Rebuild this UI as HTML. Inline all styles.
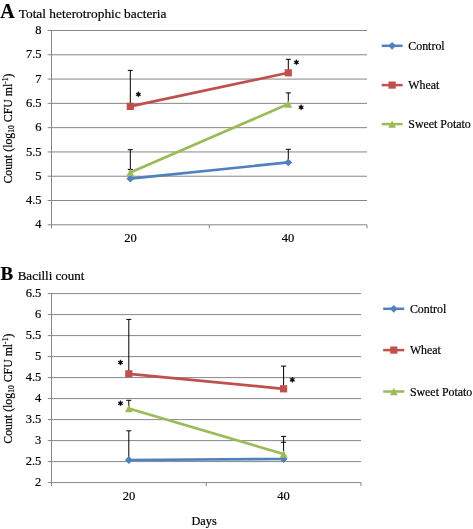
<!DOCTYPE html>
<html><head><meta charset="utf-8"><style>
html,body{margin:0;padding:0;background:#fff;}
svg{display:block;will-change:transform;}
text{stroke:#000;stroke-width:0.2px;}
</style></head><body>
<svg width="473" height="529" viewBox="0 0 473 529" font-family='"Liberation Serif", serif' fill="#000">
<line x1="47.6" y1="30.5" x2="367" y2="30.5" stroke="#878787" stroke-width="1"/>
<text x="41.5" y="34.1" text-anchor="end" font-size="12.5">8</text>
<line x1="47.6" y1="54.79" x2="367" y2="54.79" stroke="#878787" stroke-width="1"/>
<text x="41.5" y="58.39" text-anchor="end" font-size="12.5">7.5</text>
<line x1="47.6" y1="79.08" x2="367" y2="79.08" stroke="#878787" stroke-width="1"/>
<text x="41.5" y="82.67" text-anchor="end" font-size="12.5">7</text>
<line x1="47.6" y1="103.36" x2="367" y2="103.36" stroke="#878787" stroke-width="1"/>
<text x="41.5" y="106.96" text-anchor="end" font-size="12.5">6.5</text>
<line x1="47.6" y1="127.65" x2="367" y2="127.65" stroke="#878787" stroke-width="1"/>
<text x="41.5" y="131.25" text-anchor="end" font-size="12.5">6</text>
<line x1="47.6" y1="151.94" x2="367" y2="151.94" stroke="#878787" stroke-width="1"/>
<text x="41.5" y="155.54" text-anchor="end" font-size="12.5">5.5</text>
<line x1="47.6" y1="176.23" x2="367" y2="176.23" stroke="#878787" stroke-width="1"/>
<text x="41.5" y="179.83" text-anchor="end" font-size="12.5">5</text>
<line x1="47.6" y1="200.51" x2="367" y2="200.51" stroke="#878787" stroke-width="1"/>
<text x="41.5" y="204.11" text-anchor="end" font-size="12.5">4.5</text>
<line x1="47.6" y1="224.8" x2="367" y2="224.8" stroke="#878787" stroke-width="1"/>
<text x="41.5" y="228.4" text-anchor="end" font-size="12.5">4</text>
<line x1="51.5" y1="30.5" x2="51.5" y2="228.3" stroke="#878787" stroke-width="1"/>
<line x1="209.25" y1="224.8" x2="209.25" y2="228.3" stroke="#878787" stroke-width="1"/>
<line x1="367" y1="224.8" x2="367" y2="228.3" stroke="#878787" stroke-width="1"/>
<text x="130.38" y="242.4" text-anchor="middle" font-size="12.5">20</text>
<text x="288.12" y="242.4" text-anchor="middle" font-size="12.5">40</text>
<line x1="130.3" y1="106.4" x2="130.3" y2="70.4" stroke="#000" stroke-width="1"/>
<line x1="127.8" y1="70.4" x2="132.8" y2="70.4" stroke="#000" stroke-width="1"/>
<line x1="288.3" y1="72.8" x2="288.3" y2="59.3" stroke="#000" stroke-width="1"/>
<line x1="285.8" y1="59.3" x2="290.8" y2="59.3" stroke="#000" stroke-width="1"/>
<line x1="288.3" y1="104" x2="288.3" y2="92.9" stroke="#000" stroke-width="1"/>
<line x1="285.8" y1="92.9" x2="290.8" y2="92.9" stroke="#000" stroke-width="1"/>
<line x1="130.3" y1="178.7" x2="130.3" y2="149.7" stroke="#000" stroke-width="1"/>
<line x1="127.8" y1="149.7" x2="132.8" y2="149.7" stroke="#000" stroke-width="1"/>
<line x1="288.3" y1="162.4" x2="288.3" y2="149.3" stroke="#000" stroke-width="1"/>
<line x1="285.8" y1="149.3" x2="290.8" y2="149.3" stroke="#000" stroke-width="1"/>
<line x1="127.8" y1="169.4" x2="132.8" y2="169.4" stroke="#000" stroke-width="1"/>
<line x1="130.3" y1="178.7" x2="288.3" y2="162.4" stroke="#4F81BD" stroke-width="2.7"/>
<line x1="130.3" y1="106.4" x2="288.3" y2="72.8" stroke="#C0504D" stroke-width="2.7"/>
<line x1="130.3" y1="172.4" x2="288.3" y2="104" stroke="#9BBB59" stroke-width="2.7"/>
<path d="M130.3 174.8L134.2 178.7L130.3 182.6L126.4 178.7Z" fill="#4F81BD"/>
<path d="M288.3 158.5L292.2 162.4L288.3 166.3L284.4 162.4Z" fill="#4F81BD"/>
<rect x="126.7" y="102.8" width="7.2" height="7.2" fill="#C0504D"/>
<rect x="284.7" y="69.2" width="7.2" height="7.2" fill="#C0504D"/>
<path d="M130.3 168.7L134.2 176.1L126.4 176.1Z" fill="#9BBB59"/>
<path d="M288.3 100.3L292.2 107.7L284.4 107.7Z" fill="#9BBB59"/>
<polygon points="138.35,91.6 137.67,93.18 135.97,92.97 137,94.35 135.97,95.72 137.67,95.52 138.35,97.1 139.03,95.52 140.73,95.72 139.7,94.35 140.73,92.97 139.03,93.18" fill="#000" stroke="#000" stroke-width="0.5" stroke-linejoin="round"/>
<polygon points="296.4,59.55 295.72,61.13 294.02,60.92 295.05,62.3 294.02,63.67 295.72,63.47 296.4,65.05 297.07,63.47 298.78,63.67 297.75,62.3 298.78,60.92 297.07,61.13" fill="#000" stroke="#000" stroke-width="0.5" stroke-linejoin="round"/>
<polygon points="301.1,104.6 300.43,106.18 298.72,105.97 299.75,107.35 298.72,108.72 300.43,108.52 301.1,110.1 301.78,108.52 303.48,108.72 302.45,107.35 303.48,105.97 301.78,106.18" fill="#000" stroke="#000" stroke-width="0.5" stroke-linejoin="round"/>
<line x1="381.7" y1="45.8" x2="402.6" y2="45.8" stroke="#4F81BD" stroke-width="2.5"/>
<path d="M392.1 41.9L396 45.8L392.1 49.7L388.2 45.8Z" fill="#4F81BD"/>
<text x="408.3" y="49.8" font-size="11.9">Control</text>
<line x1="381.7" y1="85.1" x2="402.6" y2="85.1" stroke="#C0504D" stroke-width="2.5"/>
<rect x="388.5" y="81.5" width="7.2" height="7.2" fill="#C0504D"/>
<text x="408.3" y="89.1" font-size="11.9">Wheat</text>
<line x1="381.7" y1="124.1" x2="402.6" y2="124.1" stroke="#9BBB59" stroke-width="2.5"/>
<path d="M392.1 120.4L396 127.8L388.2 127.8Z" fill="#9BBB59"/>
<text x="408.3" y="128.1" font-size="11.9">Sweet Potato</text>
<text transform="translate(11.8 128.5) rotate(-90)" text-anchor="middle" font-size="11.8">Count (log<tspan font-size="7.67" dy="2">10</tspan><tspan dy="-2"> CFU ml</tspan><tspan font-size="7.67" dy="-4">-1</tspan><tspan dy="4">)</tspan></text>
<text x="0.3" y="17.7" font-size="20" font-weight="bold">A</text>
<text x="18.7" y="17.7" font-size="13.4">Total heterotrophic bacteria</text>
<line x1="47.8" y1="293.6" x2="361" y2="293.6" stroke="#878787" stroke-width="1"/>
<text x="41.3" y="297.2" text-anchor="end" font-size="12.5">6.5</text>
<line x1="47.8" y1="314.6" x2="361" y2="314.6" stroke="#878787" stroke-width="1"/>
<text x="41.3" y="318.2" text-anchor="end" font-size="12.5">6</text>
<line x1="47.8" y1="335.6" x2="361" y2="335.6" stroke="#878787" stroke-width="1"/>
<text x="41.3" y="339.2" text-anchor="end" font-size="12.5">5.5</text>
<line x1="47.8" y1="356.6" x2="361" y2="356.6" stroke="#878787" stroke-width="1"/>
<text x="41.3" y="360.2" text-anchor="end" font-size="12.5">5</text>
<line x1="47.8" y1="377.6" x2="361" y2="377.6" stroke="#878787" stroke-width="1"/>
<text x="41.3" y="381.2" text-anchor="end" font-size="12.5">4.5</text>
<line x1="47.8" y1="398.6" x2="361" y2="398.6" stroke="#878787" stroke-width="1"/>
<text x="41.3" y="402.2" text-anchor="end" font-size="12.5">4</text>
<line x1="47.8" y1="419.6" x2="361" y2="419.6" stroke="#878787" stroke-width="1"/>
<text x="41.3" y="423.2" text-anchor="end" font-size="12.5">3.5</text>
<line x1="47.8" y1="440.6" x2="361" y2="440.6" stroke="#878787" stroke-width="1"/>
<text x="41.3" y="444.2" text-anchor="end" font-size="12.5">3</text>
<line x1="47.8" y1="461.6" x2="361" y2="461.6" stroke="#878787" stroke-width="1"/>
<text x="41.3" y="465.2" text-anchor="end" font-size="12.5">2.5</text>
<line x1="47.8" y1="482.6" x2="361" y2="482.6" stroke="#878787" stroke-width="1"/>
<text x="41.3" y="486.2" text-anchor="end" font-size="12.5">2</text>
<line x1="51.5" y1="293.6" x2="51.5" y2="486.1" stroke="#878787" stroke-width="1"/>
<line x1="206.25" y1="482.6" x2="206.25" y2="486.1" stroke="#878787" stroke-width="1"/>
<line x1="361" y1="482.6" x2="361" y2="486.1" stroke="#878787" stroke-width="1"/>
<text x="128.88" y="500" text-anchor="middle" font-size="12.5">20</text>
<text x="283.62" y="500" text-anchor="middle" font-size="12.5">40</text>
<line x1="128.8" y1="373.8" x2="128.8" y2="319.4" stroke="#000" stroke-width="1"/>
<line x1="126.3" y1="319.4" x2="131.3" y2="319.4" stroke="#000" stroke-width="1"/>
<line x1="283.6" y1="388.8" x2="283.6" y2="366.1" stroke="#000" stroke-width="1"/>
<line x1="281.1" y1="366.1" x2="286.1" y2="366.1" stroke="#000" stroke-width="1"/>
<line x1="128.8" y1="408.5" x2="128.8" y2="400.3" stroke="#000" stroke-width="1"/>
<line x1="126.3" y1="400.3" x2="131.3" y2="400.3" stroke="#000" stroke-width="1"/>
<line x1="128.8" y1="460" x2="128.8" y2="430.8" stroke="#000" stroke-width="1"/>
<line x1="126.3" y1="430.8" x2="131.3" y2="430.8" stroke="#000" stroke-width="1"/>
<line x1="283.6" y1="456" x2="283.6" y2="436.4" stroke="#000" stroke-width="1"/>
<line x1="281.1" y1="436.4" x2="286.1" y2="436.4" stroke="#000" stroke-width="1"/>
<line x1="281.1" y1="442.3" x2="286.1" y2="442.3" stroke="#000" stroke-width="1"/>
<line x1="128.8" y1="460" x2="283.6" y2="459" stroke="#4F81BD" stroke-width="2.7"/>
<line x1="128.8" y1="373.8" x2="283.6" y2="388.8" stroke="#C0504D" stroke-width="2.7"/>
<line x1="128.8" y1="408.5" x2="283.6" y2="454" stroke="#9BBB59" stroke-width="2.7"/>
<path d="M128.8 456.1L132.7 460L128.8 463.9L124.9 460Z" fill="#4F81BD"/>
<path d="M283.6 455.1L287.5 459L283.6 462.9L279.7 459Z" fill="#4F81BD"/>
<rect x="125.2" y="370.2" width="7.2" height="7.2" fill="#C0504D"/>
<rect x="280" y="385.2" width="7.2" height="7.2" fill="#C0504D"/>
<path d="M128.8 404.8L132.7 412.2L124.9 412.2Z" fill="#9BBB59"/>
<path d="M283.6 450.3L287.5 457.7L279.7 457.7Z" fill="#9BBB59"/>
<polygon points="120.5,359.75 119.83,361.33 118.12,361.12 119.15,362.5 118.12,363.88 119.83,363.67 120.5,365.25 121.17,363.67 122.88,363.88 121.85,362.5 122.88,361.12 121.17,361.33" fill="#000" stroke="#000" stroke-width="0.5" stroke-linejoin="round"/>
<polygon points="292.3,377.05 291.62,378.63 289.92,378.43 290.95,379.8 289.92,381.18 291.62,380.97 292.3,382.55 292.98,380.97 294.68,381.18 293.65,379.8 294.68,378.43 292.98,378.63" fill="#000" stroke="#000" stroke-width="0.5" stroke-linejoin="round"/>
<polygon points="120.5,400.6 119.83,402.18 118.12,401.98 119.15,403.35 118.12,404.73 119.83,404.52 120.5,406.1 121.17,404.52 122.88,404.73 121.85,403.35 122.88,401.98 121.17,402.18" fill="#000" stroke="#000" stroke-width="0.5" stroke-linejoin="round"/>
<line x1="383.2" y1="308.8" x2="404.3" y2="308.8" stroke="#4F81BD" stroke-width="2.5"/>
<path d="M393.8 304.9L397.7 308.8L393.8 312.7L389.9 308.8Z" fill="#4F81BD"/>
<text x="409.9" y="312.8" font-size="11.9">Control</text>
<line x1="383.2" y1="350.1" x2="404.3" y2="350.1" stroke="#C0504D" stroke-width="2.5"/>
<rect x="390.2" y="346.5" width="7.2" height="7.2" fill="#C0504D"/>
<text x="409.9" y="354.1" font-size="11.9">Wheat</text>
<line x1="383.2" y1="391.5" x2="404.3" y2="391.5" stroke="#9BBB59" stroke-width="2.5"/>
<path d="M393.8 387.8L397.7 395.2L389.9 395.2Z" fill="#9BBB59"/>
<text x="409.9" y="395.5" font-size="11.9">Sweet Potato</text>
<text transform="translate(11.8 388.6) rotate(-90)" text-anchor="middle" font-size="11.8">Count (log<tspan font-size="7.67" dy="2">10</tspan><tspan dy="-2"> CFU ml</tspan><tspan font-size="7.67" dy="-4">-1</tspan><tspan dy="4">)</tspan></text>
<text x="0.4" y="280" font-size="19" font-weight="bold">B</text>
<text x="17.7" y="280" font-size="13">Bacilli count</text>
<text x="204.1" y="525.2" text-anchor="middle" font-size="12.3">Days</text>
</svg>
</body></html>
